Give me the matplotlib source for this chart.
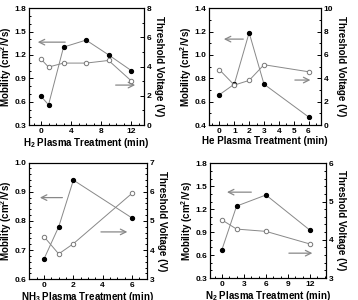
import matplotlib
matplotlib.use("Agg")
import matplotlib.pyplot as plt
from matplotlib.ticker import MultipleLocator

plt.rcParams['font.family'] = ['Liberation Sans', 'DejaVu Sans']
plt.rcParams['font.weight'] = 'bold'
plt.rcParams['mathtext.fontset'] = 'custom'
plt.rcParams['mathtext.rm'] = 'Liberation Sans:bold'
plt.rcParams['mathtext.bf'] = 'Liberation Sans:bold'

# H2 plasma
h2_t = [0, 1, 3, 6, 9, 12]
h2_mob = [0.67, 0.56, 1.30, 1.39, 1.20, 1.00]
h2_vt = [4.51, 3.97, 4.24, 4.24, 4.42, 3.03]
# He plasma
he_t = [0, 1, 2, 3, 6]
he_mob = [0.66, 0.75, 1.19, 0.75, 0.47]
he_vt = [4.73, 3.42, 3.82, 5.16, 4.56]
# NH3 plasma
nh3_t = [0, 1, 2, 6]
nh3_mob = [0.67, 0.78, 0.94, 0.81]
nh3_vt = [4.46, 3.87, 4.22, 5.95]
# N2 plasma
n2_t = [0, 2, 6, 12]
n2_mob = [0.67, 1.24, 1.385, 0.925]
n2_vt = [4.52, 4.28, 4.22, 3.89]

fig = plt.figure(figsize=(3.58, 3.0), dpi=100)

panels = [
    dict(rect=[0.081, 0.583, 0.321, 0.39], t=h2_t, mob=h2_mob, vt=h2_vt,
         xlim=(-1.6, 13.7), xmaj=4, xmin=1, ylim=(0.3, 1.8), ymaj=0.3, ymin=0.1,
         y2lim=(0, 8), y2maj=2, y2min=1, xlabel=r'H$_2$ Plasma Treatment (min)',
         la=((0.339, 0.709), (0.052, 0.709)), ra=((0.73, 0.342), (0.948, 0.342))),
    dict(rect=[0.584, 0.583, 0.313, 0.39], t=he_t, mob=he_mob, vt=he_vt,
         xlim=(-0.7, 6.85), xmaj=1, xmin=0.5, ylim=(0.4, 1.4), ymaj=0.2, ymin=0.1,
         y2lim=(0, 10), y2maj=2, y2min=1, xlabel='He Plasma Treatment (min)',
         la=((0.33, 0.735), (0.107, 0.735)), ra=((0.741, 0.385), (0.929, 0.385))),
    dict(rect=[0.082, 0.069, 0.328, 0.389], t=nh3_t, mob=nh3_mob, vt=nh3_vt,
         xlim=(-1.0, 7.0), xmaj=2, xmin=0.5, ylim=(0.6, 1.0), ymaj=0.1, ymin=0.02,
         y2lim=(3, 7), y2maj=1, y2min=0.2, xlabel=r'NH$_3$ Plasma Treatment (min)',
         la=((0.305, 0.70), (0.066, 0.70)), ra=((0.586, 0.406), (0.858, 0.406))),
    dict(rect=[0.587, 0.073, 0.324, 0.383], t=n2_t, mob=n2_mob, vt=n2_vt,
         xlim=(-1.6, 14.2), xmaj=3, xmin=1, ylim=(0.3, 1.8), ymaj=0.3, ymin=0.1,
         y2lim=(3, 6), y2maj=1, y2min=0.2, xlabel=r'N$_2$ Plasma Treatment (min)',
         la=((0.379, 0.748), (0.121, 0.748)), ra=((0.655, 0.217), (0.905, 0.217))),
]

lc = '#888888'
for p in panels:
    ax = fig.add_axes(p['rect'])
    ax2 = ax.twinx()
    ax.plot(p['t'], p['mob'], '-', color=lc, lw=0.7, marker='o', ms=2.8,
            mfc='black', mec='black', zorder=3)
    ax2.plot(p['t'], p['vt'], '-', color=lc, lw=0.7, marker='o', ms=3.2,
             mfc='white', mec='#777777', mew=0.7, zorder=3)
    ax.set_xlim(*p['xlim'])
    ax.set_ylim(*p['ylim'])
    ax2.set_ylim(*p['y2lim'])
    ax.xaxis.set_major_locator(MultipleLocator(p['xmaj']))
    ax.xaxis.set_minor_locator(MultipleLocator(p['xmin']))
    ax.yaxis.set_major_locator(MultipleLocator(p['ymaj']))
    ax.yaxis.set_minor_locator(MultipleLocator(p['ymin']))
    ax2.yaxis.set_major_locator(MultipleLocator(p['y2maj']))
    ax2.yaxis.set_minor_locator(MultipleLocator(p['y2min']))
    ax.yaxis.set_major_formatter(plt.FormatStrFormatter('%.1f'))
    for a in (ax, ax2):
        a.tick_params(which='both', direction='in', labelsize=6, width=0.7, pad=2)
        a.tick_params(which='major', length=3)
        a.tick_params(which='minor', length=1.5)
        for s in a.spines.values():
            s.set_linewidth(0.8)
    ax.tick_params(axis='x', which='both', top=False)
    ax.set_xlabel(p['xlabel'], fontsize=7, fontweight='bold', labelpad=1)
    ax.set_ylabel(r'Mobility (cm$^2$/Vs)', fontsize=7, fontweight='bold', labelpad=0.3)
    ax2.set_ylabel('Threshold Voltage (V)', fontsize=7, fontweight='bold',
                   rotation=-90, labelpad=9)
    (x0, y0), (x1, y1) = p['la']
    ax.annotate('', xy=(x1, y1), xytext=(x0, y0), xycoords='axes fraction',
                arrowprops=dict(arrowstyle='->', color=lc, lw=0.9))
    (x0, y0), (x1, y1) = p['ra']
    ax.annotate('', xy=(x1, y1), xytext=(x0, y0), xycoords='axes fraction',
                arrowprops=dict(arrowstyle='->', color=lc, lw=0.9))

fig.savefig('out.png', dpi=100)
